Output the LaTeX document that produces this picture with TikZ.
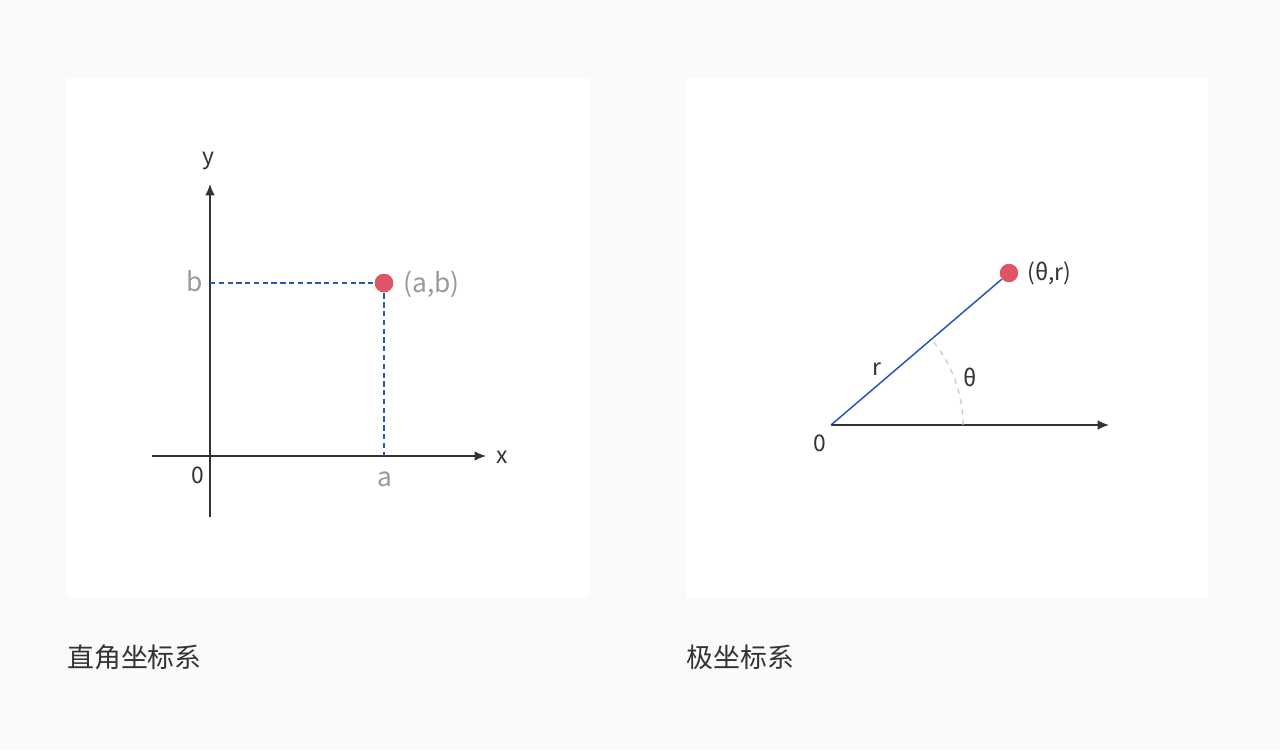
\documentclass[tikz,border=0pt]{standalone}
\usepackage{fontspec}
\setmainfont{Noto Sans CJK SC}
\usepackage{tikz}
\usetikzlibrary{positioning,calc}
\usetikzlibrary{arrows,arrows.meta}

\definecolor{bgGray}{HTML}{FAFAFA}
\definecolor{axisGray}{HTML}{333333}
\definecolor{labelGray}{HTML}{9A9A9A}
\definecolor{lineBlue}{HTML}{2956B8}
\definecolor{dotRed}{HTML}{E05566}
\definecolor{arcGray}{HTML}{C8C8C8}

\begin{document}
\begin{tikzpicture}[x=0.02cm, y=-0.02cm,
    axis/.style={-{Latex[length=6.5pt,width=5.5pt]}, axisGray, line width=0.8pt},
    lbl/.style={font=\fontsize{13pt}{15pt}\selectfont, inner sep=0pt},
    glbl/.style={font=\fontsize{15pt}{17pt}\selectfont, inner sep=0pt, text=labelGray},
    ttl/.style={font=\fontsize{15.3pt}{18pt}\selectfont, text=axisGray, inner sep=0pt, anchor=west},
    dot/.style={circle, fill=dotRed, minimum size=10.5pt, inner sep=0pt}]
  \useasboundingbox[fill=bgGray] (0,0) rectangle (1280,750);

  \fill[white] (67,78) rectangle (589,598);
  \fill[white] (686,78) rectangle (1208,598);

  % Cartesian
  \coordinate (o_1) at (210,456);
  \coordinate (x_s) at (152,456);
  \coordinate (x_e) at (486,456);
  \coordinate (y_s) at (210,517);
  \coordinate (y_e) at (210,184);
  \coordinate (b_1) at (210,283);
  \coordinate (a_1) at (384,456);

  \draw[axis] (x_s) -- (x_e);
  \draw[axis] (y_s) -- (y_e);
  \node[dot] (p_1) at (384,283) {};
  \draw[lineBlue, densely dashed, line width=0.7pt] (b_1) -- (p_1.center) -- (a_1);
  \node[dot] at (p_1) {};

  \node[lbl, text=axisGray] (n_y) at (208,161) {y};
  \node[lbl, text=axisGray] (n_x) at (502,457) {x};
  \node[lbl, text=axisGray] (n_o1) at (198,475) {0};
  \node[glbl] (n_b) at (195,281) {b};
  \node[glbl] (n_a) at (385,479) {a};
  \node[glbl, anchor=west] (n_ab) at (403,284) {(a,b)};

  % polar
  \coordinate (o_2) at (831,425);
  \coordinate (px_e) at (1109,425);
  \draw[axis] (o_2) -- (px_e);
  \node[dot] (p_2) at (1009,273) {};
  \draw[lineBlue, line width=0.85pt] (o_2) -- (p_2);
  \draw[arcGray, dashed, line width=0.7pt] ($(o_2)+(132,0)$) arc[start angle=0, end angle=-40.5, radius=132];

  \node[lbl, text=axisGray] (n_o2) at (820,443) {0};
  \node[lbl, text=axisGray] (n_r) at (877,369) {r};
  \node[lbl, text=axisGray] (n_t) at (970,377) {θ};
  \node[lbl, text=axisGray, anchor=west] (n_tr) at (1027,273) {(θ,r)};

  \node[ttl] (t_1) at (67,657) {直角坐标系};
  \node[ttl] (t_2) at (686,657) {极坐标系};
\end{tikzpicture}
\end{document}
